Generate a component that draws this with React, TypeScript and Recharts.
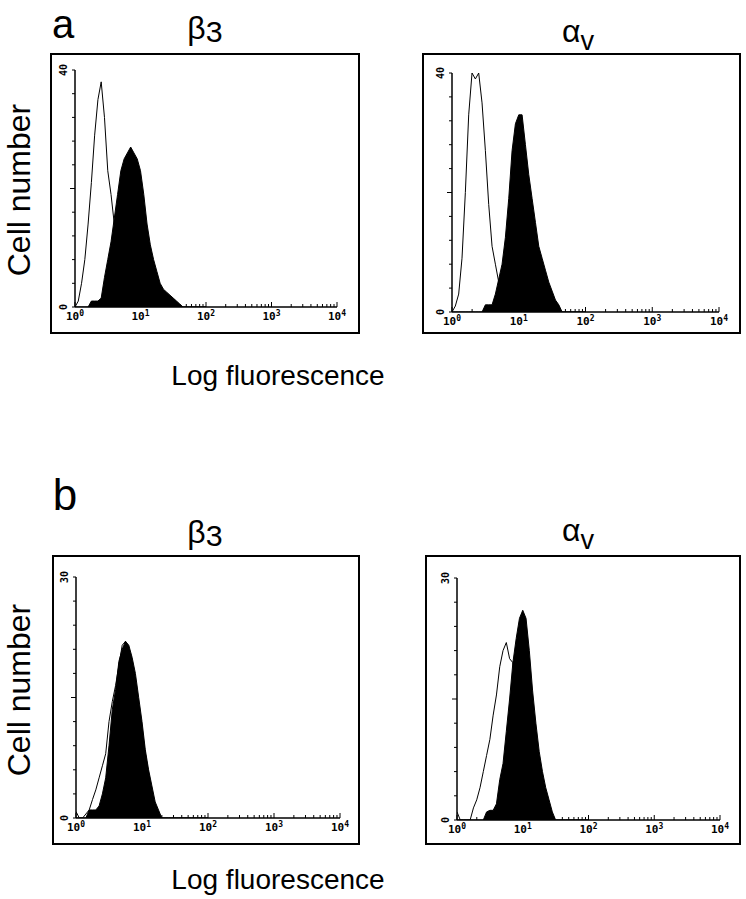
import React from 'react';
import { ComposedChart, Area, Line, XAxis, YAxis } from 'recharts';

// log10 fluorescence bin positions (decades above 10^0)
const BINS = [
  0.0, 0.05, 0.1, 0.15, 0.2, 0.25, 0.3, 0.35, 0.4, 0.45,
  0.5, 0.55, 0.6, 0.65, 0.7, 0.75, 0.8, 0.85, 0.9, 0.95,
  1.0, 1.05, 1.1, 1.15, 1.2, 1.25, 1.3, 1.35, 1.4, 1.45,
  1.5, 1.55, 1.6, 1.65, 1.7, 1.75, 1.8, 1.85, 1.9, 1.95, 2.0,
];

// panel a, beta3
const A_B3_OPEN = [
  0, 1, 4, 8, 14, 21, 29, 35, 38, 32,
  23, 19, 14, 10, 7, 4, 2, 1, 0.5, 0,
  0, 0, 0, 0, 0, 0, 0, 0, 0, 0,
  0, 0, 0, 0, 0, 0, 0, 0, 0, 0, 0,
];
const A_B3_FILL = [
  0, 0, 0, 0, 0, 1, 1, 1, 1.5, 5,
  8, 11, 15, 19, 23, 25, 26, 27, 26, 25,
  23, 19, 14, 10.5, 8, 6, 4, 3, 2.5, 2,
  1.5, 1, 0.5, 0, 0, 0, 0, 0, 0, 0, 0,
];

// panel a, alpha v
const A_AV_OPEN = [
  0, 1, 3, 9, 20, 33, 40, 39, 40, 35,
  27, 18, 11, 8, 5, 3, 1, 0, 0, 0,
  0, 0, 0, 0, 0, 0, 0, 0, 0, 0,
  0, 0, 0, 0, 0, 0, 0, 0, 0, 0, 0,
];
const A_AV_FILL = [
  0, 0, 0, 0, 0, 0, 0, 0, 0, 0,
  1.2, 1.2, 1.2, 3, 5.5, 8, 12.5, 19, 27, 31.5,
  33, 33, 28, 23, 19, 15, 11, 9, 7, 5,
  3.5, 2, 1.2, 0, 0, 0, 0, 0, 0, 0, 0,
];

// panel b, beta3
const B_B3_OPEN = [
  0.8, 0, 0, 0.5, 1, 2.3, 3.5, 5, 6.5, 8,
  12, 14.5, 16.5, 19, 21.5, 22, 19.5, 19, 17, 14,
  11, 8, 5.5, 3, 1.5, 0.5, 0, 0, 0, 0,
  0, 0, 0, 0, 0, 0, 0, 0, 0, 0, 0,
];
const B_B3_FILL = [
  0, 0, 0, 0, 1, 1, 1, 1.5, 3, 5,
  9, 13.5, 16, 19.5, 21, 22, 21.5, 20, 18, 15,
  12, 8.5, 6, 4, 2, 1, 0, 0, 0, 0,
  0, 0, 0, 0, 0, 0, 0, 0, 0, 0, 0,
];

// panel b, alpha v
const B_AV_OPEN = [
  1, 0, 0, 0, 0, 1.5, 2.5, 4, 6, 8,
  10, 13, 15.5, 19, 21, 22, 20, 19.5, 17, 13,
  9, 6, 3.5, 2, 1, 0, 0, 0, 0, 0,
  0, 0, 0, 0, 0, 0, 0, 0, 0, 0, 0,
];
const B_AV_FILL = [
  0, 0, 0, 0, 0, 0, 0, 0, 0, 1,
  1.2, 1.2, 2, 5, 7, 11, 15, 19.5, 22.5, 25,
  26, 25, 21, 16, 12, 8.5, 6, 4, 2.5, 1,
  0, 0, 0, 0, 0, 0, 0, 0, 0, 0, 0,
];

const X_MAJOR = [0, 1, 2, 3, 4];
const X_MINOR_FACTORS = [2, 3, 4, 5, 6, 7, 8, 9];
const X_TICKS = [
  ...X_MAJOR,
  ...[0, 1, 2, 3].flatMap((d) => X_MINOR_FACTORS.map((k) => d + Math.log10(k))),
].sort((a, b) => a - b);

const FONT = '"Liberation Sans", Arial, sans-serif';

const XTick = (props: any) => {
  const { x, y, payload } = props;
  const v = payload.value;
  const major = Math.abs(v - Math.round(v)) < 1e-9;
  return (
    <g>
      <line x1={x} x2={x} y1={y} y2={y - (major ? 5 : 3)} stroke="#000" strokeWidth={1} />
      {major && (
        <text
          x={x}
          y={y + 13}
          textAnchor="middle"
          fontSize={11}
          fontWeight="bold"
          fontFamily='"DejaVu Sans Mono", monospace'
          fill="#000"
        >
          10
          <tspan dy={-4} fontSize={8}>
            {Math.round(v)}
          </tspan>
        </text>
      )}
    </g>
  );
};

const makeYTick = (yMax: number) => (props: any) => {
  const { x, y, payload } = props;
  const v = payload.value;
  const long = Math.abs(v - yMax / 2) < 1e-9;
  const label = v === 0 || v === yMax;
  return (
    <g>
      <line x1={x} x2={x - (long ? 5 : 3)} y1={y} y2={y} stroke="#000" strokeWidth={1} />
      {label && (
        <text
          x={x - 8}
          y={y}
          textAnchor="middle"
          fontSize={10}
          fontWeight="bold"
          fontFamily='"DejaVu Sans Mono", monospace'
          fill="#000"
          transform={`rotate(-90 ${x - 8} ${y})`}
        >
          {v}
        </text>
      )}
    </g>
  );
};

type Rect = { l: number; t: number; r: number; b: number };

const Histogram = ({
  box,
  plot,
  yMax,
  open,
  fill,
}: {
  box: Rect;
  plot: Rect;
  yMax: number;
  open: number[];
  fill: number[];
}) => {
  const data = BINS.map((x, i) => ({ x, open: open[i], fill: fill[i] }));
  const yTicks = Array.from({ length: 11 }, (_, i) => (yMax * i) / 10);
  const w = box.r - box.l;
  const h = box.b - box.t;
  return (
    <>
      <div
        style={{
          position: 'absolute',
          left: box.l,
          top: box.t,
          width: w,
          height: h,
          border: '2px solid #000',
          boxSizing: 'border-box',
        }}
      />
      <div style={{ position: 'absolute', left: box.l, top: box.t }}>
        <ComposedChart
          width={w}
          height={h}
          data={data}
          margin={{
            left: plot.l - box.l - 1,
            top: plot.t - box.t,
            right: box.r - plot.r,
            bottom: box.b - plot.b - 1,
          }}
        >
          <XAxis
            type="number"
            dataKey="x"
            domain={[0, 4]}
            ticks={X_TICKS}
            interval={0}
            tick={<XTick />}
            tickLine={false}
            tickSize={0}
            tickMargin={0}
            height={1}
            axisLine={{ stroke: '#000', strokeWidth: 1.5 }}
            allowDataOverflow
          />
          <YAxis
            type="number"
            domain={[0, yMax]}
            ticks={yTicks}
            interval={0}
            tick={makeYTick(yMax)}
            tickLine={false}
            tickSize={0}
            tickMargin={0}
            width={1}
            axisLine={{ stroke: '#000', strokeWidth: 1.5 }}
            allowDataOverflow
          />
          <Area
            dataKey="fill"
            type="linear"
            fill="#000"
            fillOpacity={1}
            stroke="#000"
            strokeWidth={1}
            isAnimationActive={false}
            dot={false}
            activeDot={false}
          />
          <Line
            dataKey="open"
            type="linear"
            stroke="#000"
            strokeWidth={1}
            isAnimationActive={false}
            dot={false}
            activeDot={false}
          />
        </ComposedChart>
      </div>
    </>
  );
};

const Txt = ({
  x,
  y,
  size,
  rotate = 0,
  lh = 1.2,
  children,
}: {
  x: number;
  y: number;
  size: number;
  rotate?: number;
  lh?: number;
  children: React.ReactNode;
}) => (
  <div
    style={{
      position: 'absolute',
      left: x,
      top: y,
      transform: `translate(-50%, -50%) rotate(${rotate}deg)`,
      fontFamily: FONT,
      fontSize: size,
      lineHeight: lh,
      whiteSpace: 'nowrap',
      color: '#000',
    }}
  >
    {children}
  </div>
);

const Beta3 = () => (
  <span>
    β<span style={{ fontSize: '0.95em', position: 'relative', top: '0.1em' }}>3</span>
  </span>
);
const AlphaV = () => (
  <span>
    α<span style={{ fontSize: '0.85em', position: 'relative', top: '0.3em' }}>v</span>
  </span>
);

export default function App() {
  return (
    <div
      style={{
        position: 'absolute',
        left: 0,
        top: 0,
        width: 746,
        height: 899,
        background: '#fff',
        overflow: 'hidden',
      }}
    >
      {/* panel labels */}
      <Txt x={63} y={24} size={40} lh={1}>a</Txt>
      <Txt x={205} y={28} size={32}><Beta3 /></Txt>
      <Txt x={578} y={31} size={32}><AlphaV /></Txt>
      <Txt x={65} y={495} size={44}>b</Txt>
      <Txt x={205} y={532} size={32}><Beta3 /></Txt>
      <Txt x={578} y={530} size={32}><AlphaV /></Txt>

      <Txt x={19} y={190} size={32} rotate={-90}>Cell number</Txt>
      <Txt x={19} y={690} size={32} rotate={-90}>Cell number</Txt>
      <Txt x={278} y={376} size={28}>Log fluorescence</Txt>
      <Txt x={278} y={880} size={28}>Log fluorescence</Txt>

      <Histogram
        box={{ l: 50, t: 53, r: 360, b: 334 }}
        plot={{ l: 75, t: 70, r: 337, b: 307 }}
        yMax={40}
        open={A_B3_OPEN}
        fill={A_B3_FILL}
      />
      <Histogram
        box={{ l: 422, t: 53, r: 741, b: 334 }}
        plot={{ l: 452, t: 73, r: 719, b: 312 }}
        yMax={40}
        open={A_AV_OPEN}
        fill={A_AV_FILL}
      />
      <Histogram
        box={{ l: 52, t: 555, r: 360, b: 845 }}
        plot={{ l: 76, t: 577, r: 340, b: 818 }}
        yMax={30}
        open={B_B3_OPEN}
        fill={B_B3_FILL}
      />
      <Histogram
        box={{ l: 425, t: 555, r: 741, b: 845 }}
        plot={{ l: 457, t: 578, r: 720, b: 820 }}
        yMax={30}
        open={B_AV_OPEN}
        fill={B_AV_FILL}
      />
    </div>
  );
}
